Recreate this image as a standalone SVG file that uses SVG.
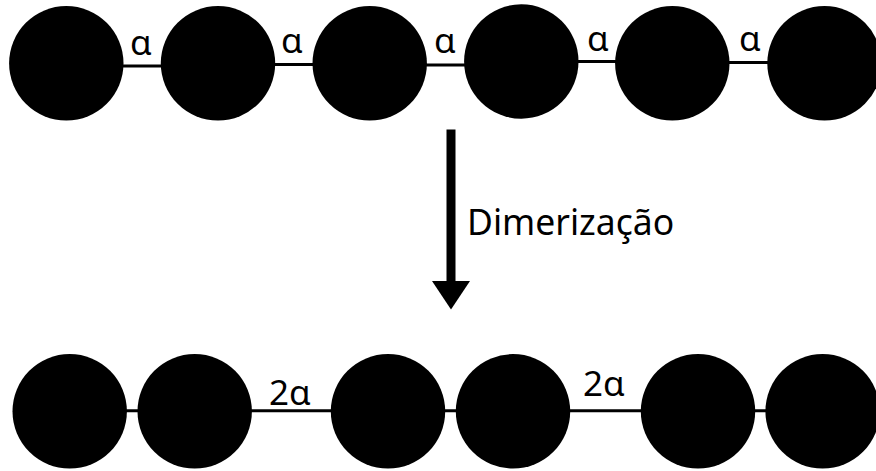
<svg xmlns="http://www.w3.org/2000/svg" width="876" height="471" viewBox="0 0 876 471">
<style>
.atom{fill:#000;}
.bond{stroke:#000;stroke-width:3;fill:none;}
.lbl{font-family:"Noto Sans","DejaVu Sans",sans-serif;font-size:35px;fill:#000;}
.big{font-size:35.5px;}
</style>
<rect width="876" height="471" fill="#fff"/>
<g id="connectors">
<line class="bond" x1="110" y1="66" x2="175" y2="66"/>
<line class="bond" x1="260" y1="64.5" x2="325" y2="64.5"/>
<line class="bond" x1="410" y1="65" x2="478" y2="65"/>
<line class="bond" x1="565" y1="61.5" x2="630" y2="61.5"/>
<line class="bond" x1="715" y1="62.5" x2="780" y2="62.5"/>
<line class="bond" x1="110" y1="410.7" x2="150" y2="410.7"/>
<line class="bond" x1="240" y1="410.7" x2="345" y2="410.7"/>
<line class="bond" x1="430" y1="410.7" x2="470" y2="410.7"/>
<line class="bond" x1="560" y1="410.7" x2="655" y2="410.7"/>
<line class="bond" x1="745" y1="410.7" x2="780" y2="410.7"/>
</g>
<g id="arrow">
<rect x="446.5" y="129.5" width="9" height="154"/>
<polygon points="432,281 470,281 451,309.5"/>
</g>
<g id="top-chain">
<circle id="t1" class="atom" cx="66.3" cy="63.3" r="57.2"/>
<circle id="t2" class="atom" cx="218" cy="63.3" r="57.2"/>
<circle id="t3" class="atom" cx="369.7" cy="63.3" r="57.2"/>
<circle id="t4" class="atom" cx="521.3" cy="61.5" r="57.2"/>
<circle id="t5" class="atom" cx="672.3" cy="63.3" r="57.2"/>
<circle id="t6" class="atom" cx="824.5" cy="63.3" r="57.2"/>
</g>
<g id="bottom-chain">
<circle id="b1" class="atom" cx="69.7" cy="411.3" r="57.2"/>
<circle id="b2" class="atom" cx="194.7" cy="411.3" r="57.2"/>
<circle id="b3" class="atom" cx="388" cy="411.3" r="57.2"/>
<circle id="b4" class="atom" cx="513" cy="411.3" r="57.2"/>
<circle id="b5" class="atom" cx="698" cy="411.3" r="57.2"/>
<circle id="b6" class="atom" cx="822.6" cy="411.3" r="57.2"/>
</g>
<g id="labels">
<text class="lbl" x="130" y="55">α</text>
<text class="lbl" x="281" y="53">α</text>
<text class="lbl" x="434" y="53">α</text>
<text class="lbl" x="587" y="51">α</text>
<text class="lbl" x="739" y="51">α</text>
<text class="lbl" x="269" y="405">2α</text>
<text class="lbl" x="583" y="396">2α</text>
<text class="lbl big" x="467" y="235">Dimerização</text>
</g>
</svg>
